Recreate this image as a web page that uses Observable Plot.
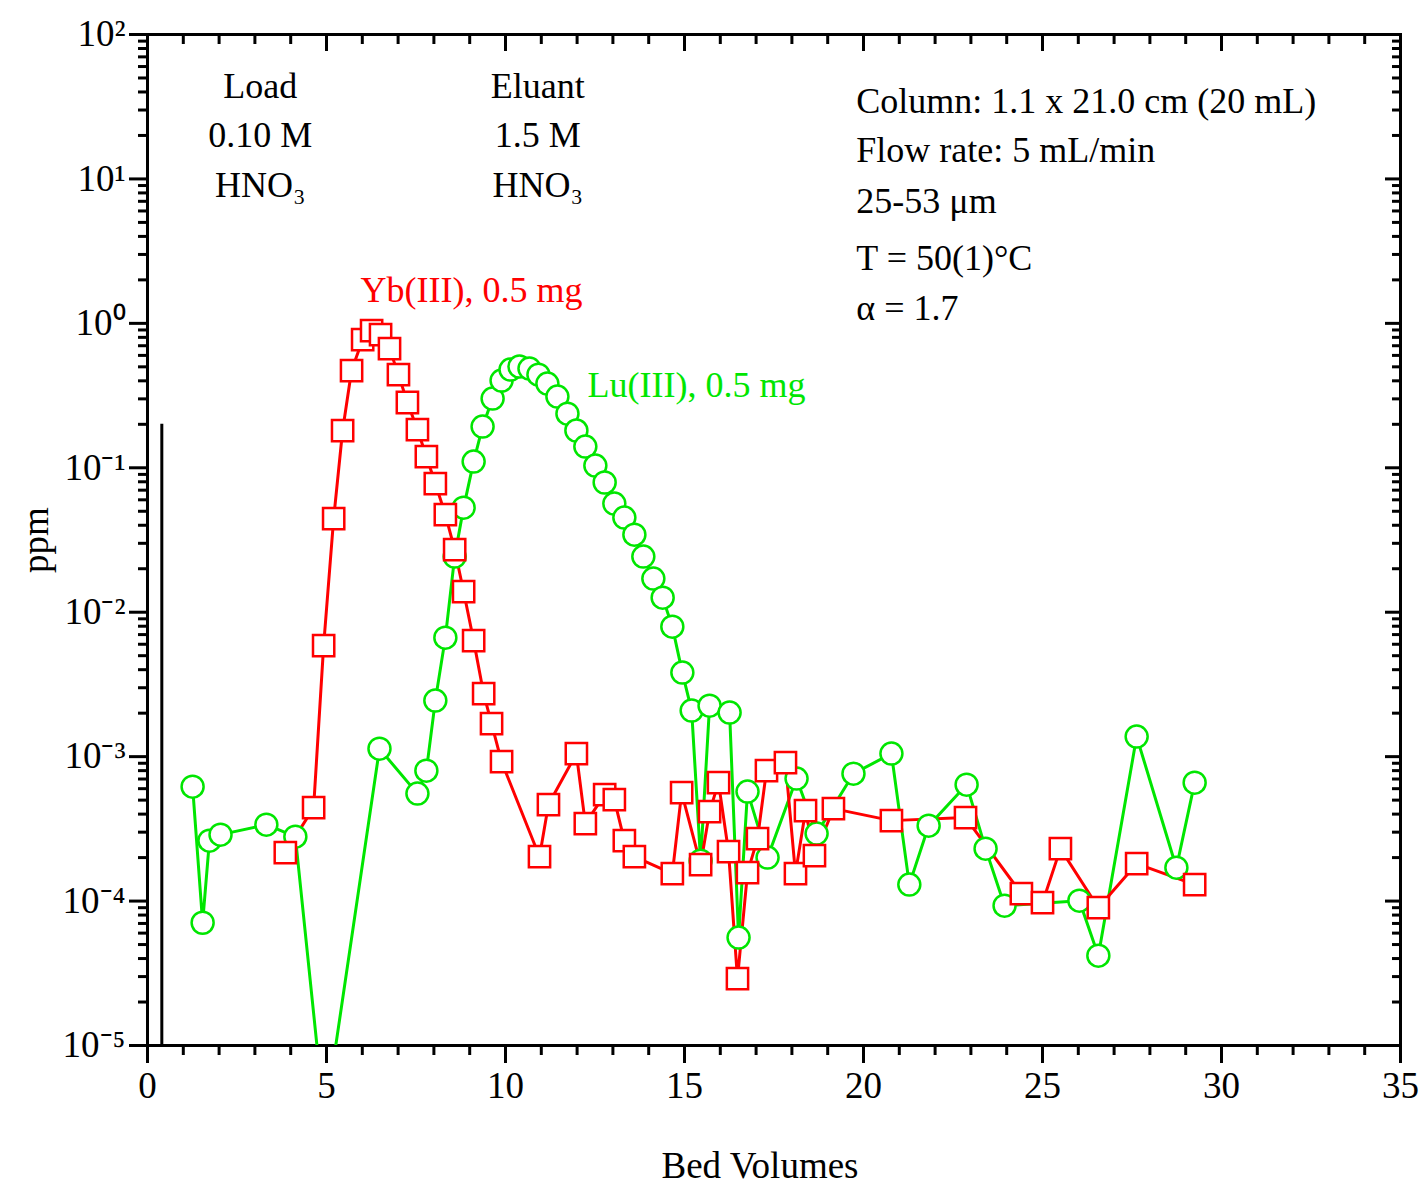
<!DOCTYPE html>
<html><head><meta charset="utf-8">
<script src="https://cdn.jsdelivr.net/npm/d3@7"></script>
<script src="https://cdn.jsdelivr.net/npm/@observablehq/plot@0.6"></script>
<style>body{margin:0;background:#fff}</style>
</head><body><div id="chart"></div>
<script>
const ybX = [3.85,4.64,4.92,5.20,5.45,5.70,6.01,6.26,6.51,6.76,7.01,7.26,7.54,7.79,8.04,8.32,8.58,8.83,9.11,9.39,9.61,9.89,10.95,11.20,11.98,12.23,12.77,13.04,13.32,13.60,14.66,14.92,15.45,15.70,15.95,16.23,16.48,16.76,17.04,17.29,17.82,18.10,18.38,18.63,19.16,20.78,22.85,24.41,25.00,25.50,26.56,27.63,29.25];
const ybLog = [-3.665,-3.353,-2.231,-1.352,-0.742,-0.327,-0.112,-0.050,-0.078,-0.175,-0.355,-0.548,-0.735,-0.922,-1.109,-1.324,-1.566,-1.857,-2.197,-2.564,-2.772,-3.035,-3.693,-3.332,-2.979,-3.464,-3.263,-3.298,-3.582,-3.693,-3.810,-3.249,-3.748,-3.381,-3.180,-3.658,-4.537,-3.803,-3.568,-3.097,-3.042,-3.810,-3.374,-3.686,-3.360,-3.443,-3.422,-3.949,-4.011,-3.637,-4.046,-3.741,-3.886];
const luX = [1.26,1.54,1.73,2.04,3.32,4.13,4.95,6.48,7.54,7.79,8.04,8.32,8.58,8.83,9.11,9.36,9.64,9.89,10.14,10.39,10.67,10.92,11.17,11.45,11.73,11.98,12.23,12.51,12.77,13.04,13.32,13.60,13.85,14.13,14.39,14.66,14.94,15.20,15.45,15.70,16.26,16.51,16.76,17.32,18.13,18.69,19.72,20.78,21.28,21.82,22.88,23.41,23.94,26.03,26.56,27.63,28.74,29.25];
const luLog = [-3.208,-4.150,-3.582,-3.540,-3.471,-3.554,-5.52,-2.945,-3.256,-3.097,-2.612,-2.176,-1.615,-1.276,-0.957,-0.715,-0.521,-0.396,-0.320,-0.299,-0.313,-0.355,-0.417,-0.507,-0.625,-0.742,-0.853,-0.985,-1.102,-1.248,-1.345,-1.463,-1.615,-1.767,-1.899,-2.100,-2.418,-2.681,-3.720,-2.647,-2.695,-4.253,-3.242,-3.699,-3.152,-3.533,-3.118,-2.979,-3.886,-3.478,-3.194,-3.637,-4.032,-3.997,-4.378,-2.861,-3.769,-3.180];
const xTicks = [0,5,10,15,20,25,30,35];
const yExp = [-5,-4,-3,-2,-1,0,1,2];
const supMap = {"-":"⁻","0":"⁰","1":"¹","2":"²","3":"³","4":"⁴","5":"⁵"};
const yLabels = yExp.map(e => "10" + String(e).split("").map(c => supMap[c]).join(""));

const yb = ybX.map((x,i)=>({x, y: 10**ybLog[i]}));
const lu = luX.map((x,i)=>({x, y: 10**luLog[i]}));
const RED = "#ff0000", GREEN = "#00e600";
const font = "Liberation Serif, Times New Roman, serif";

const minorY = [];
for (let e=-5;e<2;e++) for (let m=2;m<=9;m++) minorY.push(m*10**e);
const majorY = yExp.map(e=>10**e);
const minorX = d3.range(0,36).filter(v=>v%5!==0);

const txt = (t, x, y, opts={}) => Plot.text([t], {x:()=>x, y:()=>y, text:d=>d, fontSize:36, fontFamily:font, fill:"black", ...opts});

const chart = Plot.plot({
  width:1425, height:1186,
  marginLeft:147, marginRight:25, marginTop:34, marginBottom:141,
  x:{domain:[0,35]},
  y:{type:"log", domain:[1e-5,1e2]},
  style:{fontFamily:font, background:"white"},
  marks:[
    Plot.axisX(xTicks,{anchor:"bottom", tickSize:18, strokeWidth:3, fontSize:37, tickPadding:8, label:null, tickFormat:d=>String(d)}),
    Plot.axisX(xTicks,{anchor:"top", tickSize:-16, strokeWidth:3, text:null, label:null}),
    Plot.axisX(minorX,{anchor:"bottom", tickSize:10, strokeWidth:3, text:null, label:null}),
    Plot.axisX(minorX,{anchor:"top", tickSize:-9, strokeWidth:3, text:null, label:null}),
    Plot.axisY(majorY,{anchor:"left", tickSize:18, strokeWidth:3, fontSize:37, tickPadding:4, label:null, tickFormat:(d,i)=>yLabels[yExp.indexOf(Math.round(Math.log10(d)))]}),
    Plot.axisY(majorY,{anchor:"right", tickSize:-16, strokeWidth:3, text:null, label:null}),
    Plot.axisY(minorY,{anchor:"left", tickSize:9, strokeWidth:3, text:null, label:null}),
    Plot.axisY(minorY,{anchor:"right", tickSize:-9, strokeWidth:3, text:null, label:null}),
    Plot.frame({stroke:"black", strokeWidth:3}),
    Plot.ruleX([0.4],{y1:1e-5, y2:0.2, stroke:"black", strokeWidth:3}),
    Plot.line(lu,{x:"x", y:"y", stroke:GREEN, strokeWidth:3, clip:true}),
    Plot.line(yb,{x:"x", y:"y", stroke:RED, strokeWidth:3, clip:true}),
    Plot.dot(lu.filter(d=>d.y>=1e-5),{x:"x", y:"y", r:11, stroke:GREEN, strokeWidth:2.5, fill:"white"}),
    Plot.dot(yb,{x:"x", y:"y", symbol:"square", r:12, stroke:RED, strokeWidth:2.5, fill:"white"}),
    txt("Load",3.15,43.7), txt("0.10 M",3.15,20), txt("HNO₃",3.15,9),
    txt("Eluant",10.9,43.7), txt("1.5 M",10.9,20), txt("HNO₃",10.9,9),
    txt("Column: 1.1 x 21.0 cm (20 mL)",19.8,10**1.536,{textAnchor:"start"}),
    txt("Flow rate: 5 mL/min",19.8,10**1.197,{textAnchor:"start"}),
    txt("25-53 μm",19.8,10**0.843,{textAnchor:"start"}),
    txt("T = 50(1)°C",19.8,10**0.449,{textAnchor:"start"}),
    txt("α = 1.7",19.8,10**0.103,{textAnchor:"start"}),
    txt("Yb(III), 0.5 mg",5.95,10**0.227,{textAnchor:"start", fill:RED}),
    txt("Lu(III), 0.5 mg",12.29,10**-0.431,{textAnchor:"start", fill:GREEN})
  ]
});
const svg = d3.select(chart);
svg.append("text").attr("x",760).attr("y",1178).attr("text-anchor","middle").attr("font-family",font).attr("font-size",37).text("Bed Volumes");
svg.append("text").attr("transform","translate(48,540) rotate(-90)").attr("text-anchor","middle").attr("font-family",font).attr("font-size",37).text("ppm");
document.getElementById("chart").appendChild(chart);
</script></body></html>
